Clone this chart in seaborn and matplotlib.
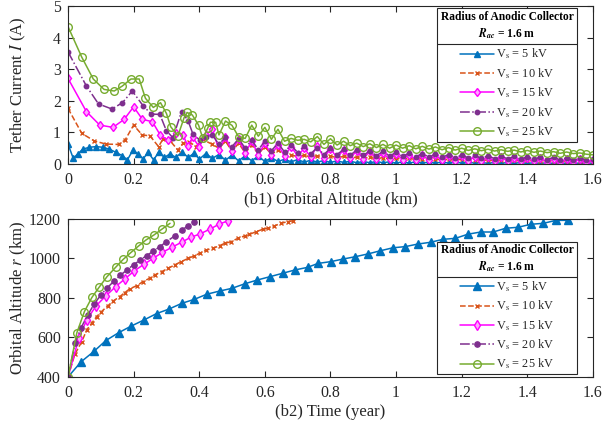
import matplotlib
matplotlib.use("Agg")
import matplotlib.pyplot as plt
import seaborn as sns
from matplotlib.patches import Rectangle
from matplotlib.lines import Line2D
from matplotlib.ticker import FuncFormatter, MultipleLocator

# ---------------- data ----------------
LABELS = ["V$_\\mathrm{s}$ = 5 kV", "V$_\\mathrm{s}$ = 10 kV", "V$_\\mathrm{s}$ = 15 kV",
          "V$_\\mathrm{s}$ = 20 kV", "V$_\\mathrm{s}$ = 25 kV"]

# (b1) tether current, shared sample grid for the long noisy tail
TAIL_X = [0.46, 0.48, 0.50, 0.52, 0.54, 0.56, 0.58, 0.60, 0.62, 0.64,
          0.66, 0.68, 0.70, 0.72, 0.74, 0.76, 0.78, 0.80, 0.82, 0.84,
          0.86, 0.88, 0.90, 0.92, 0.94, 0.96, 0.98, 1.00, 1.02, 1.04,
          1.06, 1.08, 1.10, 1.12, 1.14, 1.16, 1.18, 1.20, 1.22, 1.24,
          1.26, 1.28, 1.30, 1.32, 1.34, 1.36, 1.38, 1.40, 1.42, 1.44,
          1.46, 1.48, 1.50, 1.52, 1.54, 1.56, 1.58, 1.60]

i5_x = [0, 0.016, 0.03, 0.045, 0.065, 0.086, 0.106, 0.126, 0.146, 0.166, 0.181, 0.198, 0.213,
        0.229, 0.244, 0.261, 0.276, 0.294, 0.311, 0.328, 0.347, 0.367, 0.385, 0.40, 0.42, 0.44]
i5_y = [0.63, 0.18, 0.32, 0.47, 0.53, 0.55, 0.53, 0.47, 0.37, 0.26, 0.13, 0.44, 0.32,
        0.16, 0.37, 0.13, 0.37, 0.21, 0.32, 0.21, 0.37, 0.21, 0.35, 0.15, 0.33, 0.18]
i5_tail = [0.30, 0.12, 0.28, 0.10, 0.26, 0.10, 0.25, 0.08, 0.20, 0.08,
           0.15, 0.07, 0.14, 0.06, 0.12, 0.06, 0.11, 0.05, 0.10, 0.05,
           0.09, 0.04, 0.08, 0.04, 0.08, 0.04, 0.07, 0.03, 0.07, 0.03,
           0.07, 0.03, 0.06, 0.03, 0.06, 0.03, 0.06, 0.03, 0.05, 0.03,
           0.05, 0.02, 0.05, 0.02, 0.05, 0.02, 0.05, 0.02, 0.04, 0.02,
           0.04, 0.02, 0.04, 0.02, 0.04, 0.02, 0.04, 0.02]

i10_x = [0, 0.042, 0.08, 0.116, 0.154, 0.174, 0.20, 0.226, 0.25, 0.276, 0.29, 0.31,
         0.335, 0.35, 0.37, 0.39, 0.41, 0.44]
i10_y = [1.76, 0.97, 0.73, 0.63, 0.62, 0.76, 1.23, 0.92, 0.89, 0.55, 0.80, 0.75,
         0.44, 0.65, 0.70, 0.55, 0.78, 0.62]
i10_tail = [0.50, 0.72, 0.40, 0.66, 0.35, 0.60, 0.32, 0.55, 0.30, 0.45,
            0.26, 0.28, 0.24, 0.27, 0.23, 0.26, 0.22, 0.25, 0.20, 0.24,
            0.19, 0.22, 0.18, 0.21, 0.17, 0.20, 0.16, 0.19, 0.15, 0.18,
            0.14, 0.17, 0.13, 0.16, 0.13, 0.15, 0.12, 0.15, 0.11, 0.14,
            0.11, 0.13, 0.10, 0.13, 0.10, 0.12, 0.09, 0.12, 0.09, 0.11,
            0.08, 0.11, 0.08, 0.10, 0.07, 0.10, 0.07, 0.09]

i15_x = [0, 0.056, 0.097, 0.137, 0.171, 0.20, 0.227, 0.257, 0.281, 0.304, 0.33, 0.35,
         0.365, 0.38, 0.40, 0.42, 0.44]
i15_y = [2.71, 1.66, 1.23, 1.16, 1.41, 1.81, 1.41, 1.34, 0.92, 0.76, 0.97, 0.93,
         0.58, 0.84, 0.55, 0.92, 1.10]
i15_tail = [0.45, 0.85, 0.40, 0.80, 0.35, 0.72, 0.30, 0.65, 0.30, 0.60,
            0.25, 0.55, 0.25, 0.50, 0.22, 0.58, 0.20, 0.48, 0.20, 0.45,
            0.18, 0.42, 0.17, 0.40, 0.16, 0.35, 0.15, 0.32, 0.14, 0.30,
            0.13, 0.28, 0.12, 0.27, 0.12, 0.25, 0.11, 0.24, 0.10, 0.23,
            0.10, 0.22, 0.09, 0.21, 0.09, 0.20, 0.08, 0.19, 0.08, 0.18,
            0.07, 0.17, 0.07, 0.16, 0.06, 0.15, 0.06, 0.14]

i20_x = [0, 0.056, 0.093, 0.134, 0.166, 0.196, 0.229, 0.254, 0.28, 0.30, 0.32, 0.346,
         0.366, 0.381, 0.402, 0.421, 0.44]
i20_y = [3.55, 2.47, 1.90, 1.74, 1.94, 2.31, 1.84, 1.58, 1.57, 1.05, 0.83, 1.66,
         1.37, 0.94, 0.76, 0.86, 0.92]
i20_tail = [0.62, 0.85, 0.55, 0.80, 0.50, 0.76, 0.45, 0.72, 0.42, 0.66,
            0.38, 0.60, 0.36, 0.56, 0.33, 0.52, 0.30, 0.50, 0.30, 0.46,
            0.28, 0.44, 0.27, 0.42, 0.26, 0.40, 0.25, 0.37, 0.24, 0.35,
            0.23, 0.33, 0.22, 0.31, 0.21, 0.30, 0.20, 0.28, 0.19, 0.27,
            0.18, 0.26, 0.17, 0.25, 0.16, 0.24, 0.15, 0.23, 0.15, 0.22,
            0.14, 0.21, 0.13, 0.20, 0.12, 0.19, 0.12, 0.17]

i25_x = [0, 0.042, 0.077, 0.11, 0.141, 0.166, 0.192, 0.217, 0.236, 0.26, 0.282, 0.30,
         0.313, 0.335, 0.354, 0.363, 0.379, 0.398, 0.411, 0.426, 0.434, 0.45]
i25_y = [4.35, 3.38, 2.69, 2.36, 2.31, 2.47, 2.69, 2.69, 2.08, 1.79, 1.94, 1.60,
         1.18, 0.89, 1.47, 1.63, 1.55, 1.23, 0.81, 1.14, 1.32, 1.32]
i25_tail = [0.92, 1.36, 1.22, 0.86, 0.81, 1.23, 0.88, 1.16, 0.78, 1.10,
            0.72, 0.81, 0.75, 0.78, 0.70, 0.87, 0.62, 0.80, 0.60, 0.72,
            0.58, 0.66, 0.55, 0.64, 0.52, 0.62, 0.50, 0.60, 0.50, 0.58,
            0.48, 0.56, 0.47, 0.54, 0.45, 0.52, 0.44, 0.50, 0.43, 0.48,
            0.42, 0.47, 0.41, 0.45, 0.40, 0.44, 0.38, 0.43, 0.37, 0.41,
            0.36, 0.39, 0.34, 0.38, 0.33, 0.35, 0.31, 0.29]

# (b2) orbital altitude vs time
t5 = [0, 0.04, 0.08, 0.115, 0.154, 0.193, 0.232, 0.27, 0.308, 0.347, 0.385, 0.423, 0.462,
      0.50, 0.539, 0.577, 0.616, 0.654, 0.692, 0.73, 0.762, 0.801, 0.838, 0.876, 0.914,
      0.952, 0.99, 1.028, 1.066, 1.105, 1.143, 1.181, 1.219, 1.258, 1.296, 1.334, 1.372,
      1.41, 1.449, 1.487, 1.525]
r5 = [400, 477, 531, 584, 624, 658, 689, 721, 744, 773, 793, 819, 835,
      849, 872, 891, 908, 925, 942, 955, 975, 984, 997, 1009, 1023,
      1039, 1054, 1060, 1073, 1082, 1097, 1102, 1123, 1134, 1134, 1153, 1158,
      1173, 1178, 1193, 1193]
t10 = [0, 0.021, 0.042, 0.057, 0.072, 0.087, 0.102, 0.122, 0.138, 0.158, 0.173, 0.188,
       0.209, 0.229, 0.249, 0.264, 0.285, 0.305, 0.325, 0.345, 0.366, 0.383, 0.401, 0.422,
       0.442, 0.462, 0.477, 0.497, 0.518, 0.538, 0.553, 0.574, 0.594, 0.609, 0.629, 0.65,
       0.67, 0.685]
r10 = [400, 515, 579, 638, 672, 705, 731, 761, 785, 807, 827, 846,
       862, 883, 900, 916, 933, 950, 967, 984, 1000, 1012, 1026, 1043,
       1051, 1065, 1076, 1085, 1102, 1114, 1122, 1136, 1148, 1153, 1165, 1178,
       1187, 1190]
t15 = [0, 0.033, 0.057, 0.086, 0.115, 0.145, 0.173, 0.202, 0.231, 0.259, 0.288, 0.316,
       0.346, 0.374, 0.402, 0.432, 0.46, 0.488]
r15 = [400, 596, 689, 761, 810, 857, 896, 937, 970, 1000, 1031, 1056,
       1082, 1107, 1124, 1148, 1173, 1191]
t20 = [0, 0.022, 0.04, 0.06, 0.08, 0.10, 0.12, 0.14, 0.16, 0.18, 0.20, 0.22, 0.24,
       0.26, 0.28, 0.30, 0.325, 0.348, 0.365, 0.385]
r20 = [400, 574, 650, 713, 770, 815, 852, 885, 915, 943, 968, 992, 1015,
       1037, 1060, 1085, 1114, 1144, 1165, 1187]
t25 = [0, 0.027, 0.05, 0.073, 0.096, 0.119, 0.145, 0.168, 0.191, 0.215, 0.238, 0.262,
       0.286, 0.311]
r25 = [400, 624, 731, 803, 857, 908, 955, 995, 1029, 1063, 1094, 1119, 1148, 1178]

# ---------------- styling ----------------
sns.set_theme(style="ticks")
plt.rcParams["font.family"] = ["Liberation Serif", "DejaVu Serif"]
plt.rcParams["mathtext.fontset"] = "stix"
AX_COLOR = "#262626"

STYLES = [
    dict(color="#0072BD", marker="^", linestyle="-", markerfacecolor="#0072BD"),
    dict(color="#D95319", marker="x", linestyle="--", markerfacecolor="#D95319"),
    dict(color="#FF00FF", marker="d", linestyle="-", markerfacecolor="#ffa6ff"),
    dict(color="#7E2F8E", marker="o", linestyle="-.", markerfacecolor="#7E2F8E"),
    dict(color="#77AC30", marker="o", linestyle="-", markerfacecolor="none"),
]
MS_TOP = [4.5, 3.5, 4.5, 3.2, 5.5]
MS_BOT = [5.5, 3.5, 5.5, 3.8, 5.5]


def style_axes(ax, xlabel, ylabel):
    ax.set_xlim(0, 1.6)
    ax.xaxis.set_major_locator(MultipleLocator(0.2))
    fmt = FuncFormatter(lambda v, p: f"{v:g}")
    ax.xaxis.set_major_formatter(fmt)
    ax.yaxis.set_major_formatter(fmt)
    ax.tick_params(direction="in", top=True, right=True, length=4, width=0.8,
                   labelsize=11.4, colors=AX_COLOR, pad=5)
    ax.tick_params(axis="x", pad=6)
    for s in ax.spines.values():
        s.set_visible(True)
        s.set_color(AX_COLOR)
        s.set_linewidth(0.8)
    ax.set_xlabel(xlabel, fontsize=12, color=AX_COLOR, labelpad=2)
    ax.set_ylabel(ylabel, fontsize=12, color=AX_COLOR)
    # both y labels sit at the same distance from the axes, as in the reference
    ax.yaxis.set_label_coords(-0.076, 0.5)


def draw_legend(ax, handles, y_top, y_sep, y_bot):
    x0, x1 = 0.703, 0.970
    xc = (x0 + x1) / 2
    ax.add_patch(Rectangle((x0, y_bot), x1 - x0, y_top - y_bot, transform=ax.transAxes,
                           facecolor="white", edgecolor=AX_COLOR, lw=0.8, zorder=5,
                           clip_on=False))
    ax.add_artist(Line2D([x0, x1], [y_sep, y_sep], transform=ax.transAxes,
                         color=AX_COLOR, lw=0.8, zorder=6))
    ax.text(xc, (y_top + y_sep) / 2,
            "Radius of Anodic Collector\n$\\boldsymbol{R}_{\\boldsymbol{ac}}$ = 1.6 m",
            transform=ax.transAxes, ha="center", va="center", fontsize=8.3,
            fontweight="bold", color="black", zorder=7, linespacing=1.35)
    leg = ax.legend(handles, LABELS, loc="center", bbox_to_anchor=(xc, (y_sep + y_bot) / 2),
                    frameon=False, fontsize=8.8, handlelength=2.8, handletextpad=0.2,
                    labelspacing=0.4, borderaxespad=0, borderpad=0, numpoints=1)
    leg.set_zorder(8)


fig = plt.figure(figsize=(6.06, 4.28), dpi=100)
ax1 = fig.add_axes([0.1122, 0.6168, 0.8663, 0.3692])
ax2 = fig.add_axes([0.1122, 0.1192, 0.8663, 0.3692])

top_series = [(i5_x, i5_y, i5_tail), (i10_x, i10_y, i10_tail), (i15_x, i15_y, i15_tail),
              (i20_x, i20_y, i20_tail), (i25_x, i25_y, i25_tail)]
for (xs, ys, tail), st, ms in zip(top_series, STYLES, MS_TOP):
    sns.lineplot(x=xs + TAIL_X, y=ys + tail, ax=ax1, sort=False, estimator=None,
                 linewidth=1.1, markersize=ms, markeredgecolor=st["color"],
                 markeredgewidth=1.0, **st)

bot_series = [(t5, r5), (t10, r10), (t15, r15), (t20, r20), (t25, r25)]
for (ts, rs), st, ms in zip(bot_series, STYLES, MS_BOT):
    sns.lineplot(x=ts, y=rs, ax=ax2, sort=False, estimator=None,
                 linewidth=1.1, markersize=ms, markeredgecolor=st["color"],
                 markeredgewidth=1.0, **st)

ax1.set_ylim(0, 5)
ax1.yaxis.set_major_locator(MultipleLocator(1))
style_axes(ax1, "(b1) Orbital Altitude (km)", "Tether Current $I$ (A)")
ax2.set_ylim(400, 1200)
ax2.yaxis.set_major_locator(MultipleLocator(200))
style_axes(ax2, "(b2) Time (year)", "Orbital Altitude $r$ (km)")

draw_legend(ax1, list(ax1.get_lines())[:5], 0.985, 0.759, 0.141)
draw_legend(ax2, list(ax2.get_lines())[:5], 0.856, 0.635, 0.017)

fig.savefig("out.png", dpi=100)
